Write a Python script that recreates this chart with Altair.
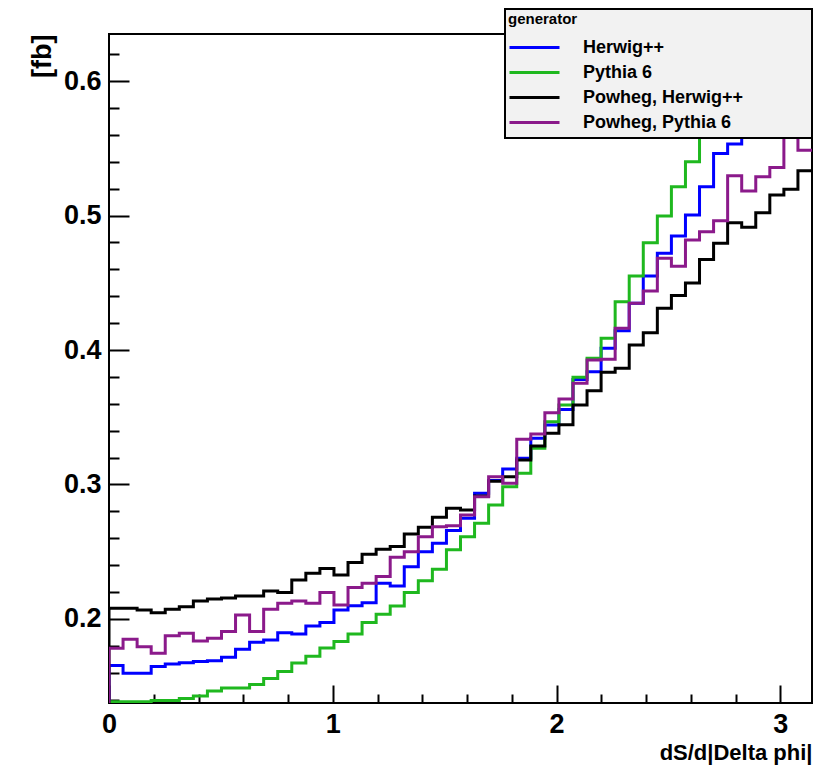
import altair as alt
import numpy as np
import pandas as pd

# ---------------- data ----------------
series_names = ["Herwig++", "Pythia 6", "Powheg, Herwig++", "Powheg, Pythia 6"]
series_colors = ["#0000ff", "#1fb81f", "#000000", "#8b1a8b"]

n_bins = 50
x_lo, x_hi = 0.0, np.pi
y_lo, y_hi = 0.1375, 0.635

herwig = [0.1653, 0.1596, 0.1596, 0.1646, 0.1665, 0.1675, 0.1683, 0.1690, 0.1715, 0.1775,
          0.1827, 0.1844, 0.1898, 0.1888, 0.1948, 0.1973, 0.2067, 0.2099, 0.2121, 0.2265,
          0.2245, 0.2389, 0.2500, 0.2563, 0.2657, 0.2749, 0.2935, 0.3030, 0.3116, 0.3195,
          0.3344, 0.3442, 0.3557, 0.3780, 0.3839, 0.4013, 0.4144, 0.4347, 0.4550, 0.4719,
          0.4848, 0.5004, 0.5214, 0.5462, 0.5532, 0.5650, 0.5750, 0.5900, 0.6000, 0.6100]

pythia = [0.1385, 0.1385, 0.1385, 0.1394, 0.1394, 0.1409, 0.1427, 0.1465, 0.1487, 0.1487,
          0.1513, 0.1558, 0.1610, 0.1673, 0.1723, 0.1784, 0.1833, 0.1888, 0.1973, 0.2035,
          0.2097, 0.2196, 0.2285, 0.2370, 0.2515, 0.2612, 0.2712, 0.2848, 0.2984, 0.3083,
          0.3269, 0.3467, 0.3591, 0.3797, 0.3938, 0.4087, 0.4359, 0.4550, 0.4798, 0.4996,
          0.5214, 0.5400, 0.5650, 0.5900, 0.6100, 0.6250, 0.6400, 0.6550, 0.6650, 0.6750]

powheg_herwig = [0.2080, 0.2080, 0.2067, 0.2047, 0.2072, 0.2091, 0.2134, 0.2149, 0.2156, 0.2171,
                 0.2171, 0.2208, 0.2196, 0.2290, 0.2340, 0.2375, 0.2327, 0.2419, 0.2481, 0.2518,
                 0.2538, 0.2632, 0.2682, 0.2756, 0.2823, 0.2810, 0.2915, 0.3024, 0.3058, 0.3182,
                 0.3286, 0.3381, 0.3445, 0.3591, 0.3697, 0.3834, 0.3864, 0.4037, 0.4129, 0.4310,
                 0.4405, 0.4498, 0.4674, 0.4793, 0.4947, 0.4912, 0.5021, 0.5152, 0.5195, 0.5333]

powheg_pythia = [0.1782, 0.1849, 0.1794, 0.1745, 0.1876, 0.1893, 0.1836, 0.1856, 0.1906, 0.2030,
                 0.1906, 0.2072, 0.2117, 0.2134, 0.2117, 0.2196, 0.2104, 0.2233, 0.2265, 0.2315,
                 0.2459, 0.2500, 0.2612, 0.2686, 0.2694, 0.2773, 0.2909, 0.3058, 0.3009, 0.3336,
                 0.3375, 0.3534, 0.3636, 0.3752, 0.3926, 0.3931, 0.4161, 0.4347, 0.4439, 0.4682,
                 0.4622, 0.4818, 0.4880, 0.4961, 0.5296, 0.5182, 0.5289, 0.5358, 0.5750, 0.5485]

y_major = [0.2, 0.3, 0.4, 0.5, 0.6]
y_minor = [0.14, 0.16, 0.18, 0.22, 0.24, 0.26, 0.28, 0.32, 0.34, 0.36, 0.38,
           0.42, 0.44, 0.46, 0.48, 0.52, 0.54, 0.56, 0.58, 0.62]
x_major = [0, 1, 2, 3]
x_minor = [0.2, 0.4, 0.6, 0.8, 1.2, 1.4, 1.6, 1.8, 2.2, 2.4, 2.6, 2.8]

# ---------------- table (histogram outlines) ----------------
edges = np.linspace(x_lo, x_hi, n_bins + 1)
rows = []
for name, vals in zip(series_names, [herwig, pythia, powheg_herwig, powheg_pythia]):
    pts = [(edges[0], y_lo)]
    pts += [(edges[i], v) for i, v in enumerate(vals)]
    pts += [(edges[-1], vals[-1])]
    for k, (xv, yv) in enumerate(pts):
        rows.append({"series": name, "x": float(xv), "y": float(yv), "k": k})
df = pd.DataFrame(rows)

# ---------------- chart ----------------
W, H = 703, 669
FONT = "Liberation Sans"
LABEL_PAD = " " * 13 + "\u200b"   # keeps the legend box as wide as in the reference

xs = alt.Scale(domain=[x_lo, x_hi], nice=False, zero=False)
ys = alt.Scale(domain=[y_lo, y_hi], nice=False, zero=False)

base = alt.Chart(df)

legend = alt.Legend(
    orient="none", legendX=396, legendY=-25,
    title="generator", titleFont=FONT, titleFontWeight="bold", titleFontSize=15,
    titleColor="black", titlePadding=8,
    labelFont=FONT, labelFontWeight="bold", labelFontSize=18, labelColor="black",
    labelOffset=22, labelLimit=600,
    labelExpr="datum.label + '" + LABEL_PAD + "'",
    symbolType="stroke", symbolSize=2500, symbolStrokeWidth=3,
    clipHeight=25, rowPadding=0,
    fillColor="#f2f2f2", strokeColor="black", padding=3,
)

lines = base.mark_line(interpolate="step-after", strokeWidth=3, clip=True).encode(
    x=alt.X("x:Q", scale=xs, axis=alt.Axis(
        orient="bottom", values=x_major, format=".0f", ticks=False, tickSize=0, domain=False,
        grid=False, labelPadding=8, labelFlush=False, labelFont=FONT, labelFontWeight="bold",
        labelFontSize=27, labelColor="black", title="dS/d|Delta phi|", titleFont=FONT,
        titleFontWeight="bold", titleFontSize=22, titleColor="black", titleX=W, titleY=49,
        titleAlign="right", titleBaseline="middle")),
    y=alt.Y("y:Q", scale=ys, axis=alt.Axis(
        orient="left", values=y_major, format=".1f", ticks=False, tickSize=0, domain=False,
        grid=False, labelPadding=8, labelFlush=False, labelFont=FONT, labelFontWeight="bold",
        labelFontSize=27, labelColor="black", title="[fb]", titleFont=FONT,
        titleFontWeight="bold", titleFontSize=27, titleColor="black", titleX=-67, titleY=0,
        titleAlign="right", titleAngle=270, titleBaseline="middle")),
    color=alt.Color("series:N", scale=alt.Scale(domain=series_names, range=series_colors),
                    sort=series_names, legend=legend),
    order=alt.Order("k:Q"),
)

major_ticks = base.mark_point(opacity=0).encode(
    x=alt.X("x:Q", scale=xs, axis=alt.Axis(
        orient="top", offset=-H, values=x_major, labels=False, domain=False, grid=False,
        ticks=True, tickSize=18, tickWidth=2, tickColor="black", title=None)),
    y=alt.Y("y:Q", scale=ys, axis=alt.Axis(
        orient="right", offset=-W, values=y_major, labels=False, domain=False, grid=False,
        ticks=True, tickSize=20, tickWidth=2, tickColor="black", title=None)),
)

minor_ticks = base.mark_point(opacity=0).encode(
    x=alt.X("x:Q", scale=xs, axis=alt.Axis(
        orient="top", offset=-H, values=x_minor, labels=False, domain=False, grid=False,
        ticks=True, tickSize=9, tickWidth=2, tickColor="black", title=None)),
    y=alt.Y("y:Q", scale=ys, axis=alt.Axis(
        orient="right", offset=-W, values=y_minor, labels=False, domain=False, grid=False,
        ticks=True, tickSize=10, tickWidth=2, tickColor="black", title=None)),
)

chart = alt.layer(lines, major_ticks, minor_ticks).resolve_axis(
    x="independent", y="independent"
).properties(
    width=W, height=H,
    padding={"left": 109, "top": 34, "right": 5, "bottom": 70},
    autosize=alt.AutoSizeParams(type="none"),
    background="white",
).configure_view(
    stroke="black", strokeWidth=2,
).configure_legend(
    strokeWidth=2,
)

chart.save("out.html", embed_options={"renderer": "svg", "actions": False})
